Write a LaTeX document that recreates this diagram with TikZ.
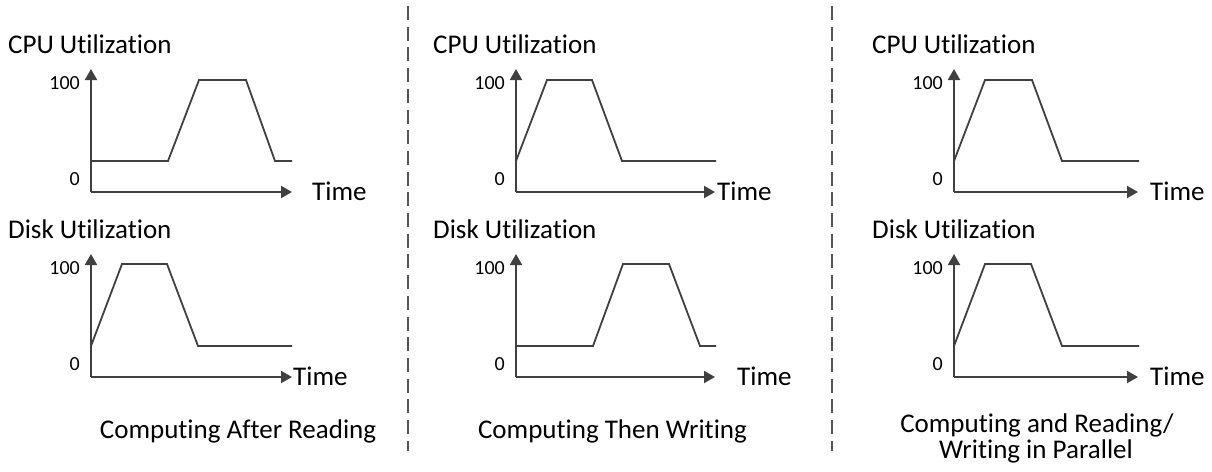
\documentclass[tikz,border=0pt]{standalone}
\usepackage{fontspec}
\setmainfont{Carlito}[Ligatures=NoCommon]
\usetikzlibrary{arrows.meta}
\definecolor{axgray}{HTML}{404040}
\definecolor{sepgray}{HTML}{555555}
\tikzset{
  axisline/.style={draw=axgray, line width=2pt, -{Triangle[length=11pt,width=12pt]}},
  curveline/.style={draw=axgray, line width=1.8pt, line join=miter},
  titletext/.style={font=\fontsize{27}{30}\selectfont, inner sep=0pt, anchor=base west},
  ticktext/.style={font=\fontsize{20}{22}\selectfont, inner sep=0pt, anchor=base east},
  captiontext/.style={font=\fontsize{27}{30}\selectfont, inner sep=0pt, anchor=base},
  sepline/.style={draw=sepgray, line width=2pt, dash pattern=on 14pt off 6.7pt},
}
% #1 name, #2 origin x, #3 origin y, #4 x-axis length, #5 Time label offset, #6 curve
\newcommand\utilplot[6]{%
  \coordinate (#1o) at (#2,#3);
  \coordinate (#1y) at (#2,#3-123);
  \coordinate (#1x) at (#2+#4,#3);
  \draw[axisline] (#1o) -- (#1y);
  \draw[axisline] (#1o) -- (#1x);
  \node[ticktext] (#1hi) at (#2-11,#3-103) {100};
  \node[ticktext] (#1lo) at (#2-11,#3-7) {0};
  \node[titletext] (#1time) at (#2+#5,#3+8) {Time};
  \begin{scope}[shift={(#1o)}]
    \draw[curveline] #6;
  \end{scope}
}
\begin{document}
\begin{tikzpicture}[x=1pt,y=-1pt]
\useasboundingbox (0,0) rectangle (1212,471);

% separators
\coordinate (s1a) at (408,6);
\coordinate (s1b) at (408,451);
\coordinate (s2a) at (831.5,6);
\coordinate (s2b) at (831.5,451);
\draw[sepline] (s1a) -- (s1b);
\draw[sepline] (s2a) -- (s2b);

% titles
\node[titletext] (cpu1) at (8,53) {CPU Utilization};
\node[titletext] (disk1) at (8,238) {Disk Utilization};
\node[titletext] (cpu2) at (433,53) {CPU Utilization};
\node[titletext] (disk2) at (433,238) {Disk Utilization};
\node[titletext] (cpu3) at (872,53) {CPU Utilization};
\node[titletext] (disk3) at (872,238) {Disk Utilization};

% plots
\utilplot{pa}{91}{192}{201}{221}{(0,-31) -- (77,-31) -- (108,-112) -- (155,-112) -- (184,-31) -- (201,-31)}
\utilplot{pb}{91}{377}{201}{202}{(0,-31) -- (31,-113) -- (76,-113) -- (107,-31) -- (201,-31)}
\utilplot{pc}{516}{192}{199}{201}{(0,-31) -- (31,-112) -- (76,-112) -- (106,-31) -- (200,-31)}
\utilplot{pd}{516}{377}{199}{221}{(0,-31) -- (77,-31) -- (107,-113) -- (153,-113) -- (184,-31) -- (200,-31)}
\utilplot{pe}{954}{192}{184}{196}{(0,-31) -- (31,-112) -- (78,-112) -- (108,-31) -- (185,-31)}
\utilplot{pf}{954}{377}{184}{196}{(0,-31) -- (31,-113) -- (77,-113) -- (108,-31) -- (185,-31)}

% captions
\node[captiontext] (cap1) at (238,438) {Computing After Reading};
\node[captiontext] (cap2) at (612.5,438) {Computing Then Writing};
\node[captiontext] (cap3a) at (1037,432) {Computing and Reading/};
\node[captiontext] (cap3b) at (1036,458) {Writing in Parallel};
\end{tikzpicture}
\end{document}
